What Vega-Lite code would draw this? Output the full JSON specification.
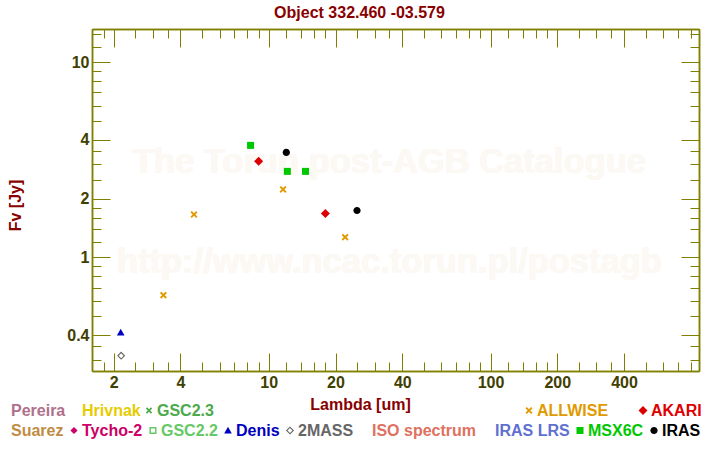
{
  "$schema": "https://vega.github.io/schema/vega-lite/v6.json",
  "width": 607,
  "height": 342,
  "autosize": {"type": "none"},
  "padding": {"left": 92, "top": 29, "right": 21, "bottom": 79},
  "background": "white",
  "config": {
    "view": {"stroke": null},
    "font": "Liberation Sans",
    "axis": {
      "grid": false,
      "domainColor": "#808000",
      "tickColor": "#808000",
      "domainWidth": 1.5,
      "tickWidth": 1,
      "labelFont": "Liberation Sans",
      "labelFontSize": 16,
      "labelFontWeight": "bold",
      "labelColor": "#404000",
      "titleFont": "Liberation Sans",
      "titleFontSize": 16,
      "titleFontWeight": "bold",
      "titleColor": "#880000",
      "labelOverlap": false,
      "labelFlush": false
    },
    "legend": {
      "orient": "none",
      "direction": "horizontal",
      "padding": 0,
      "labelFont": "Liberation Sans",
      "labelFontSize": 16,
      "labelFontWeight": "bold",
      "symbolSize": 81,
      "symbolStrokeWidth": 0,
      "symbolOpacity": 1,
      "labelOffset": 0,
      "columnPadding": 2,
      "labelLimit": 300
    }
  },
  "title": {
    "text": "Object 332.460 -03.579",
    "font": "Liberation Sans",
    "fontSize": 16,
    "fontWeight": "bold",
    "color": "#880000",
    "anchor": "middle",
    "frame": "group",
    "dx": -36,
    "offset": 8
  },
  "data": {
    "values": [
      {"source": "ALLWISE", "lambda": 3.35, "flux": 0.641},
      {"source": "ALLWISE", "lambda": 4.6, "flux": 1.66},
      {"source": "ALLWISE", "lambda": 11.6, "flux": 2.23},
      {"source": "ALLWISE", "lambda": 22.1, "flux": 1.27},
      {"source": "AKARI", "lambda": 9.0, "flux": 3.11},
      {"source": "AKARI", "lambda": 18.0, "flux": 1.68},
      {"source": "MSX6C", "lambda": 8.28, "flux": 3.75},
      {"source": "MSX6C", "lambda": 12.13, "flux": 2.76},
      {"source": "MSX6C", "lambda": 14.65, "flux": 2.76},
      {"source": "IRAS", "lambda": 12.0, "flux": 3.45},
      {"source": "IRAS", "lambda": 25.0, "flux": 1.74},
      {"source": "Denis", "lambda": 2.15, "flux": 0.412},
      {"source": "2MASS", "lambda": 2.16, "flux": 0.314}
    ]
  },
  "resolve": {
    "axis": {"x": "independent", "y": "independent"},
    "scale": {"color": "independent", "shape": "independent"},
    "legend": {"color": "independent", "shape": "independent"}
  },
  "layer": [
    {
      "mark": {"type": "text", "font": "Liberation Sans", "fontSize": 34.5, "fontWeight": "bold", "color": "#fcf9f5", "align": "center", "baseline": "middle"},
      "encoding": {
        "x": {"datum": 35, "type": "quantitative", "scale": {"type": "log", "domain": [1.596, 871], "nice": false, "zero": false},
          "axis": {"orient": "top", "values": [2, 4, 10, 20, 40, 100, 200, 400], "tickSize": -18, "labels": false, "title": null}},
        "y": {"datum": 3.05, "type": "quantitative", "scale": {"type": "log", "domain": [0.262, 14.8], "nice": false, "zero": false},
          "axis": {"orient": "right", "values": [0.4, 1, 2, 4, 10], "tickSize": -18, "labels": false, "title": null}},
        "text": {"value": "The Torun post-AGB Catalogue"}
      }
    },
    {
      "mark": {"type": "text", "font": "Liberation Sans", "fontSize": 34.5, "fontWeight": "bold", "color": "#fcf9f5", "align": "center", "baseline": "middle"},
      "encoding": {
        "x": {"datum": 35, "type": "quantitative", "scale": {"type": "log", "domain": [1.596, 871], "nice": false, "zero": false},
          "axis": {"orient": "bottom", "values": [1.8, 2.5, 3, 3.5, 5, 6, 7, 8, 9, 12, 14, 16, 18, 25, 30, 35, 50, 60, 70, 80, 90, 120, 140, 160, 180, 250, 300, 350, 500, 600, 700, 800], "tickSize": -9, "labels": false, "title": null}},
        "y": {"datum": 0.94, "type": "quantitative", "scale": {"type": "log", "domain": [0.262, 14.8], "nice": false, "zero": false},
          "axis": {"orient": "left", "values": [0.3, 0.35, 0.5, 0.6, 0.7, 0.8, 0.9, 1.2, 1.4, 1.6, 1.8, 2.5, 3, 3.5, 5, 6, 7, 8, 9, 12, 14], "tickSize": -9, "labels": false, "title": null}},
        "text": {"value": "http://www.ncac.torun.pl/postagb"}
      }
    },
    {
      "transform": [{"filter": "indexof(['Pereira', 'Hrivnak', 'GSC2.3'], datum.source) >= 0"}],
      "mark": {"type": "point", "filled": true, "size": 81, "opacity": 1},
      "encoding": {
        "x": {"field": "lambda", "type": "quantitative", "scale": {"type": "log", "domain": [1.596, 871], "nice": false, "zero": false},
          "axis": {"orient": "top", "values": [1.8, 2.5, 3, 3.5, 5, 6, 7, 8, 9, 12, 14, 16, 18, 25, 30, 35, 50, 60, 70, 80, 90, 120, 140, 160, 180, 250, 300, 350, 500, 600, 700, 800], "tickSize": -9, "labels": false, "title": null}},
        "y": {"field": "flux", "type": "quantitative", "scale": {"type": "log", "domain": [0.262, 14.8], "nice": false, "zero": false},
          "axis": {"orient": "right", "values": [0.3, 0.35, 0.5, 0.6, 0.7, 0.8, 0.9, 1.2, 1.4, 1.6, 1.8, 2.5, 3, 3.5, 5, 6, 7, 8, 9, 12, 14], "tickSize": -9, "labels": false, "title": null}},
        "color": {
          "field": "source", "type": "nominal",
          "scale": {"domain": ["Pereira", "Hrivnak", "GSC2.3"], "range": ["#b0708c", "#e6cc00", "#4caa4c"]},
          "legend": {
            "title": null, "legendX": -97, "legendY": 373.5, "columnPadding": 0,
            "labelColor": {"expr": "datum.value === 'Pereira' ? '#b0708c' : datum.value === 'Hrivnak' ? '#e6cc00' : '#4caa4c'"}
          }
        },
        "shape": {
          "field": "source", "type": "nominal",
          "scale": {
            "domain": ["Pereira", "Hrivnak", "GSC2.3"],
            "range": [
              "M0,0Z", "M0,0Z",
              "M-0.7,-0.43L-0.43,-0.7L0,-0.27L0.43,-0.7L0.7,-0.43L0.27,0L0.7,0.43L0.43,0.7L0,0.27L-0.43,0.7L-0.7,0.43L-0.27,0Z"
            ]
          }
        }
      }
    },
    {
      "transform": [{"filter": "indexof(['ALLWISE', 'AKARI'], datum.source) >= 0"}],
      "mark": {"type": "point", "filled": true, "size": 81, "opacity": 1},
      "encoding": {
        "x": {"field": "lambda", "type": "quantitative", "scale": {"type": "log", "domain": [1.596, 871], "nice": false, "zero": false},
          "axis": {"orient": "bottom", "values": [2, 4, 10, 20, 40, 100, 200, 400], "tickSize": -18, "labelPadding": 21, "format": "~g",
            "title": "Lambda [um]", "titleX": 268, "titleY": 33, "titleBaseline": "middle", "titleAlign": "center"}},
        "y": {"field": "flux", "type": "quantitative", "scale": {"type": "log", "domain": [0.262, 14.8], "nice": false, "zero": false},
          "axis": {"orient": "left", "values": [0.4, 1, 2, 4, 10], "tickSize": -18, "labelPadding": 21, "format": "~g",
            "title": "Fv [Jy]", "titleX": -77, "titleY": 176, "titleBaseline": "middle", "titleAlign": "center", "titleAngle": -90}},
        "color": {
          "field": "source", "type": "nominal",
          "scale": {"domain": ["ALLWISE", "AKARI"], "range": ["#e09a00", "#dd0000"]},
          "legend": {
            "title": null, "legendX": 429, "legendY": 373.5, "columnPadding": 26,
            "labelColor": {"expr": "datum.value === 'ALLWISE' ? '#e09a00' : '#e00000'"}
          }
        },
        "shape": {
          "field": "source", "type": "nominal",
          "scale": {
            "domain": ["ALLWISE", "AKARI"],
            "range": [
              "M-0.78,-0.48L-0.48,-0.78L0,-0.3L0.48,-0.78L0.78,-0.48L0.3,0L0.78,0.48L0.48,0.78L0,0.3L-0.48,0.78L-0.78,0.48L-0.3,0Z",
              "M0,-1L1,0L0,1L-1,0Z"
            ]
          }
        }
      }
    },
    {
      "transform": [{"filter": "indexof(['ALLWISE', 'AKARI', 'Pereira', 'Hrivnak', 'GSC2.3'], datum.source) < 0"}],
      "mark": {"type": "point", "filled": true, "size": 81, "opacity": 1},
      "encoding": {
        "x": {"field": "lambda", "type": "quantitative", "scale": {"type": "log", "domain": [1.596, 871], "nice": false, "zero": false}, "axis": null},
        "y": {"field": "flux", "type": "quantitative", "scale": {"type": "log", "domain": [0.262, 14.8], "nice": false, "zero": false}, "axis": null},
        "color": {
          "field": "source", "type": "nominal",
          "scale": {
            "domain": ["Suarez", "Tycho-2", "GSC2.2", "Denis", "2MASS", "ISO spectrum", "IRAS LRS", "MSX6C", "IRAS"],
            "range": ["#c08c44", "#cc0066", "#66c866", "#0000c0", "#666666", "#e07060", "#6070d0", "#00c800", "#000000"]
          },
          "legend": {
            "title": null, "legendX": -97, "legendY": 393.5, "columnPadding": 2,
            "labelColor": {"expr": "datum.value === 'Suarez' ? '#c08c44' : datum.value === 'Tycho-2' ? '#cc0066' : datum.value === 'GSC2.2' ? '#66c866' : datum.value === 'Denis' ? '#0000c0' : datum.value === '2MASS' ? '#666666' : datum.value === 'ISO spectrum' ? '#e07060' : datum.value === 'IRAS LRS' ? '#6070d0' : datum.value === 'MSX6C' ? '#00c800' : '#000000'"}
          }
        },
        "shape": {
          "field": "source", "type": "nominal",
          "scale": {
            "domain": ["Suarez", "Tycho-2", "GSC2.2", "Denis", "2MASS", "ISO spectrum", "IRAS LRS", "MSX6C", "IRAS"],
            "range": [
              "M0,0Z",
              "M0,-0.8L0.8,0L0,0.8L-0.8,0Z",
              "M-0.78,-0.78L0.78,-0.78L0.78,0.78L-0.78,0.78Z M-0.45,-0.45L-0.45,0.45L0.45,0.45L0.45,-0.45Z",
              "M0,-0.85L0.85,0.65L-0.85,0.65Z",
              "M0,-0.9L0.9,0L0,0.9L-0.9,0Z M0,-0.55L-0.55,0L0,0.55L0.55,0Z",
              "M0,0Z", "M0,0Z",
              "M-0.78,-0.78L0.78,-0.78L0.78,0.78L-0.78,0.78Z",
              "M0.8,0A0.8,0.8,0,1,1,-0.8,0A0.8,0.8,0,1,1,0.8,0Z"
            ]
          }
        }
      }
    }
  ]
}
